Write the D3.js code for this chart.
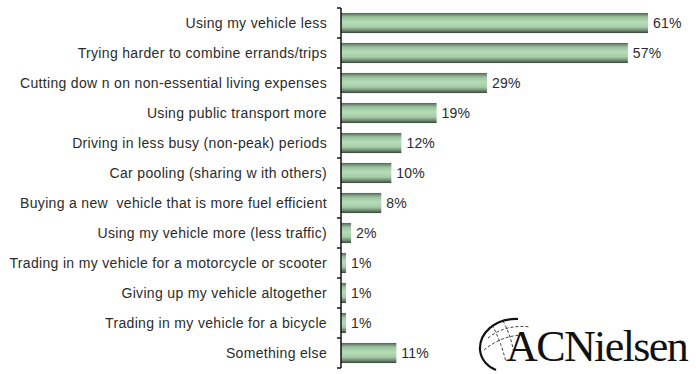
<!DOCTYPE html>
<html>
<head>
<meta charset="utf-8">
<script src="https://cdn.jsdelivr.net/npm/d3@7"></script>
<style>
  body { margin: 0; background: #fff; }
  svg { display: block; }
</style>
</head>
<body>
<div id="chart"></div>
<script>
// chart data
const categories = [
    "Using my vehicle less",
    "Trying harder to combine errands/trips",
    "Cutting dow n on non-essential living expenses",
    "Using public transport more",
    "Driving in less busy (non-peak) periods",
    "Car pooling (sharing w ith others)",
    "Buying a new  vehicle that is more fuel efficient",
    "Using my vehicle more (less traffic)",
    "Trading in my vehicle for a motorcycle or scooter",
    "Giving up my vehicle altogether",
    "Trading in my vehicle for a bicycle",
    "Something else"
];
const values = [61, 57, 29, 19, 12, 10, 8, 2, 1, 1, 1, 11];
const logoText = "ACNielsen";

const width = 696, height = 374;
const margin = { top: 8, right: 48, bottom: 6, left: 341 };
const innerW = width - margin.left - margin.right;
const innerH = height - margin.top - margin.bottom;

const svg = d3.select("#chart")
    .append("svg")
    .attr("width", width)
    .attr("height", height);

// bar gradient: dark edges, light green core
const grad = svg.append("defs").append("linearGradient")
    .attr("id", "barGrad")
    .attr("x1", 0).attr("y1", 0).attr("x2", 0).attr("y2", 1);
[[0, "#56635a"], [0.2, "#98c29c"], [0.45, "#b6dcb8"], [0.7, "#a4cea7"], [0.88, "#6d846f"], [1, "#38443a"]]
    .forEach(([o, c]) => grad.append("stop").attr("offset", o).attr("stop-color", c));

const g = svg.append("g")
    .attr("transform", `translate(${margin.left},${margin.top})`);

const x = d3.scaleLinear().domain([0, 61]).range([0, 307]);
const y = d3.scaleBand().domain(categories).range([0, innerH]).paddingInner(0.33).paddingOuter(0.165);
const yOuter = d3.scaleBand().domain(categories).range([0, innerH]);

// bars
g.selectAll(".bar")
    .data(values)
    .join("rect")
    .attr("class", "bar")
    .attr("x", 0)
    .attr("y", (d, i) => y(categories[i]))
    .attr("width", d => x(d))
    .attr("height", y.bandwidth())
    .attr("fill", "url(#barGrad)");

// value labels
g.selectAll(".val")
    .data(values)
    .join("text")
    .attr("class", "val")
    .attr("x", d => x(d) + 5)
    .attr("y", (d, i) => y(categories[i]) + y.bandwidth() / 2)
    .attr("dy", "0.36em")
    .style("font-family", "Liberation Sans, Arial, sans-serif")
    .style("font-size", "14px")
    .style("letter-spacing", "0.2px")
    .style("fill", "#2b2b2b")
    .text(d => d + "%");

// category labels
g.selectAll(".cat")
    .data(categories)
    .join("text")
    .attr("class", "cat")
    .attr("x", -14)
    .attr("y", d => yOuter(d) + yOuter.bandwidth() / 2)
    .attr("dy", "0.36em")
    .attr("text-anchor", "end")
    .style("font-family", "Liberation Sans, Arial, sans-serif")
    .style("font-size", "14px")
    .style("letter-spacing", "0.33px")
    .style("fill", "#2b2b2b")
    .style("white-space", "pre")
    .text(d => d);

// axis line with ticks on band boundaries
const bounds = categories.map(c => yOuter(c)).concat([innerH]);
g.append("line")
    .attr("x1", 0).attr("x2", 0)
    .attr("y1", 0).attr("y2", innerH)
    .attr("stroke", "#111").attr("stroke-width", 1.5);
g.selectAll(".tick")
    .data(bounds)
    .join("line")
    .attr("class", "tick")
    .attr("x1", -4).attr("x2", 0)
    .attr("y1", d => d).attr("y2", d => d)
    .attr("stroke", "#111").attr("stroke-width", 1.5);

// logo
const logo = svg.append("g").attr("transform", "translate(478,316)");
logo.append("path")
    .attr("d", "M40,3 C16,2 1,18 2,34 C3,44 10,51 18,54")
    .attr("fill", "none").attr("stroke", "#111").attr("stroke-width", 2.2);
logo.append("path")
    .attr("d", "M10,22 C22,12 38,9 52,11 M6,34 C18,24 32,19 46,19 M14,9 C20,20 24,30 28,46 M25,5 C31,16 34,26 36,38")
    .attr("fill", "none").attr("stroke", "#111").attr("stroke-width", 0.8)
    .attr("stroke-dasharray", "3,2");
logo.append("text")
    .attr("x", 28)
    .attr("y", 45)
    .style("font-family", "Liberation Serif, Times New Roman, serif")
    .style("font-size", "44px")
    .style("letter-spacing", "-1.6px")
    .style("fill", "#111")
    .text(logoText);
</script>
</body>
</html>
